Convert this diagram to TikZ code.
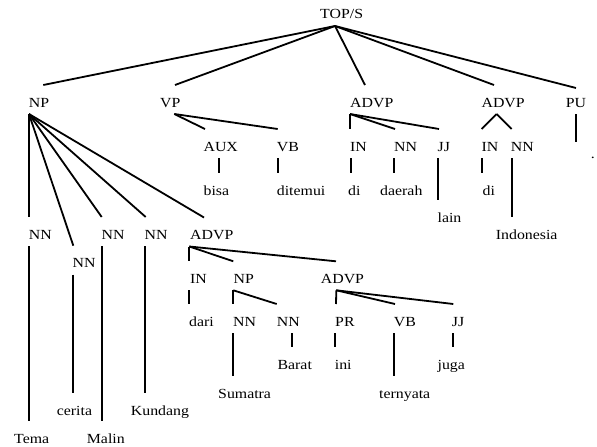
\documentclass[tikz,border=0pt]{standalone}
\usepackage{fontspec}
\setmainfont[FakeStretch=1.14]{Liberation Serif}
% parent node, x offset of the start, child node, x offset of the end
\newcommand\branch[4]{\draw ([shift={(#2,-7)}]#1.base west) -- ([shift={(#4,22)}]#3.base west);}
\begin{document}
\begin{tikzpicture}[x=1pt,y=1pt,
  lbl/.style={inner sep=0pt, anchor=base west, font=\fontsize{13.9}{16}\selectfont},
  every path/.style={line width=1.8pt}]
\useasboundingbox (0,0) rectangle (597,-447);
% labels: (left edge, baseline)
\node[lbl] (top) at (319.3,-19) {TOP/S};
\node[lbl] (np) at (28,-107) {NP};
\node[lbl] (vp) at (159.3,-107) {VP};
\node[lbl] (advpa) at (349.3,-107) {ADVP};
\node[lbl] (advpb) at (480.7,-107) {ADVP};
\node[lbl] (pu) at (565,-107) {PU};
\node[lbl] (aux) at (202.7,-151) {AUX};
\node[lbl] (vba) at (276,-151) {VB};
\node[lbl] (ina) at (349.3,-151) {IN};
\node[lbl] (nna) at (393.3,-151) {NN};
\node[lbl] (jja) at (436.7,-151) {JJ};
\node[lbl] (inb) at (480.7,-151) {IN};
\node[lbl] (nnb) at (510,-151) {NN};
\node[lbl] (dot) at (590,-158) {.};
\node[lbl] (bisa) at (202.7,-195) {bisa};
\node[lbl] (ditemui) at (276,-195) {ditemui};
\node[lbl] (dia) at (347.3,-195) {di};
\node[lbl] (daerah) at (379.3,-195) {daerah};
\node[lbl] (lain) at (436.7,-222) {lain};
\node[lbl] (dib) at (481.7,-195) {di};
\node[lbl] (indonesia) at (495,-239) {Indonesia};
\node[lbl] (nn1) at (28,-239) {NN};
\node[lbl] (nn2) at (71.7,-267.7) {NN};
\node[lbl] (nn3) at (100.7,-239) {NN};
\node[lbl] (nn4) at (143.7,-239) {NN};
\node[lbl] (advpc) at (189.3,-239.5) {ADVP};
\node[lbl] (tema) at (13.3,-443.3) {Tema};
\node[lbl] (cerita) at (56,-415) {cerita};
\node[lbl] (malin) at (86,-443.3) {Malin};
\node[lbl] (kundang) at (130,-415) {Kundang};
\node[lbl] (inc) at (189.3,-283.3) {IN};
\node[lbl] (npb) at (232.7,-283.3) {NP};
\node[lbl] (advpd) at (320,-283.3) {ADVP};
\node[lbl] (dari) at (188.3,-326) {dari};
\node[lbl] (nnc) at (232.3,-326) {NN};
\node[lbl] (nnd) at (276,-326) {NN};
\node[lbl] (pr) at (334.3,-326) {PR};
\node[lbl] (vbb) at (393,-326) {VB};
\node[lbl] (jjb) at (451,-326) {JJ};
\node[lbl] (sumatra) at (217.3,-398.3) {Sumatra};
\node[lbl] (barat) at (276.7,-369.3) {Barat};
\node[lbl] (ini) at (334,-369.3) {ini};
\node[lbl] (ternyata) at (378.3,-398.3) {ternyata};
\node[lbl] (juga) at (436.7,-369.3) {juga};
% top level
\branch{top}{15.7}{np}{15.3}
\branch{top}{15.7}{vp}{15.7}
\branch{top}{15.7}{advpa}{15.7}
\branch{top}{15.7}{advpb}{13.3}
\draw ([shift={(15.7,-7)}]top.base west) -- ([shift={(11,19)}]pu.base west);
% NP
\branch{np}{1}{nn1}{1}
\branch{np}{1}{nn2}{1.6}
\branch{np}{1}{nn3}{1}
\branch{np}{1}{nn4}{2}
\branch{np}{1}{advpc}{14.7}
% VP
\branch{vp}{15}{aux}{2.3}
\branch{vp}{15}{vba}{1.7}
% ADVPs
\branch{advpa}{0.7}{ina}{0.7}
\branch{advpa}{0.7}{nna}{1.7}
\branch{advpa}{0.7}{jja}{2.3}
\branch{advpb}{16}{inb}{1}
\branch{advpb}{16}{nnb}{1.7}
\draw ([shift={(11,-7)}]pu.base west) -- ([shift={(-14,16.3)}]dot.base west);
% words
\branch{aux}{16.3}{bisa}{16.3}
\branch{vba}{1.7}{ditemui}{1.7}
\branch{ina}{1.4}{dia}{3.4}
\branch{nna}{1}{daerah}{15}
\branch{jja}{1}{lain}{1}
\branch{inb}{1.6}{dib}{0.6}
\branch{nnb}{1.7}{indonesia}{16.7}
\branch{nn1}{1}{tema}{15.7}
\branch{nn2}{1.3}{cerita}{17}
\branch{nn3}{1}{malin}{15.7}
\branch{nn4}{1.6}{kundang}{15.3}
% inner ADVP
\branch{advpc}{0}{inc}{0}
\branch{advpc}{0}{npb}{0.6}
\branch{advpc}{0}{advpd}{16}
\branch{inc}{0}{dari}{1}
\branch{npb}{0.6}{nnc}{1}
\branch{npb}{0.6}{nnd}{0.7}
\branch{advpd}{16.3}{pr}{1.7}
\branch{advpd}{16.3}{vbb}{2}
\branch{advpd}{16.3}{jjb}{2.3}
\branch{nnc}{1}{sumatra}{16}
\branch{nnd}{15.7}{barat}{15}
\branch{pr}{0.7}{ini}{1}
\branch{vbb}{1}{ternyata}{15.7}
\branch{jjb}{1.7}{juga}{16}
\end{tikzpicture}
\end{document}
